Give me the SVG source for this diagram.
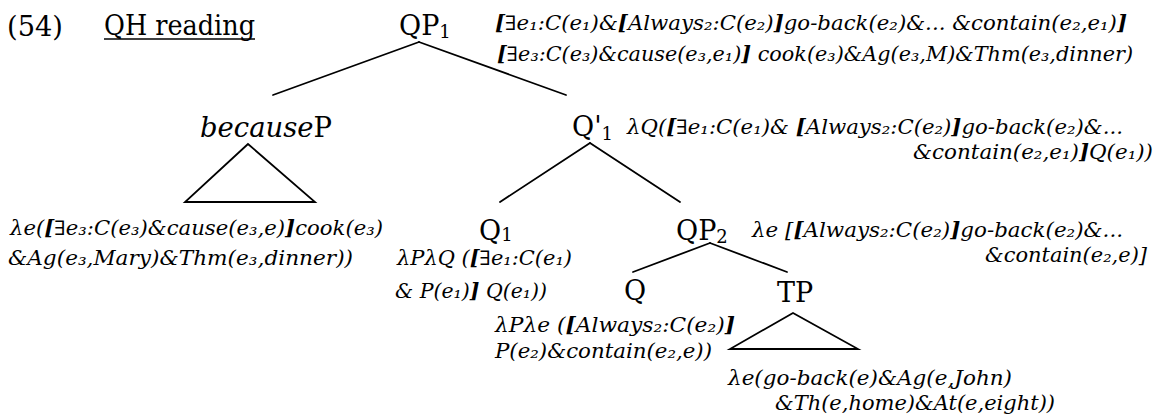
<svg xmlns="http://www.w3.org/2000/svg" width="1171" height="419" viewBox="0 0 1171 419">
<style>
.lbl{font-family:"DejaVu Serif","Liberation Serif",serif;font-size:27px;fill:#000}
.ttl{font-family:"DejaVu Serif","Liberation Serif",serif;font-size:27px;fill:#000}
.sem{font-family:"DejaVu Serif","Liberation Serif",serif;font-style:italic;font-size:20px;fill:#000}
.b{font-weight:bold}
.sub{font-size:18px}
.edge{stroke:#000;stroke-width:1.8;fill:none;stroke-linecap:round}
</style>
<rect width="1171" height="419" fill="#fff"/>
<g id="title">
<text class="ttl" x="7" y="36" textLength="56" lengthAdjust="spacingAndGlyphs">(54)</text>
<text class="ttl" x="104" y="35" textLength="151" lengthAdjust="spacingAndGlyphs">QH reading</text>
<line x1="104" y1="39" x2="255" y2="39" stroke="#000" stroke-width="1.4"/>
</g>
<g id="connectors">
<line class="edge" x1="419" y1="42" x2="273" y2="95"/>
<line class="edge" x1="419" y1="42" x2="566" y2="95"/>
<line class="edge" x1="590" y1="143" x2="500" y2="202"/>
<line class="edge" x1="590" y1="143" x2="680" y2="202"/>
<line class="edge" x1="710" y1="243" x2="633" y2="272"/>
<line class="edge" x1="710" y1="243" x2="787" y2="272"/>
<polygon class="edge" points="248,144 185,202 315,202"/>
<polygon class="edge" points="793,313 730,349 858,349"/>
</g>
<g id="QP1">
<text class="lbl" x="399" y="35">QP<tspan class="sub" dy="3">1</tspan></text>
<text class="sem" x="495" y="30" textLength="632" lengthAdjust="spacingAndGlyphs"><tspan class="b">[</tspan>∃e₁:C(e₁)&amp;<tspan class="b">[</tspan>Always₂:C(e₂)<tspan class="b">]</tspan>go-back(e₂)&amp;... &amp;contain(e₂,e₁)<tspan class="b">]</tspan></text>
<text class="sem" x="497" y="61" textLength="636" lengthAdjust="spacingAndGlyphs"><tspan class="b">[</tspan>∃e₃:C(e₃)&amp;cause(e₃,e₁)<tspan class="b">]</tspan> cook(e₃)&amp;Ag(e₃,M)&amp;Thm(e₃,dinner)</text>
</g>
<g id="becauseP">
<text class="lbl" x="200" y="137" textLength="132" lengthAdjust="spacingAndGlyphs"><tspan font-style="italic">because</tspan>P</text>
<text class="sem" x="10" y="235" textLength="373" lengthAdjust="spacingAndGlyphs">λe(<tspan class="b">[</tspan>∃e₃:C(e₃)&amp;cause(e₃,e)<tspan class="b">]</tspan>cook(e₃)</text>
<text class="sem" x="8" y="265" textLength="345" lengthAdjust="spacingAndGlyphs">&amp;Ag(e₃,Mary)&amp;Thm(e₃,dinner))</text>
</g>
<g id="Qbar1">
<text class="lbl" x="572" y="136">Q'<tspan class="sub" dy="4">1</tspan></text>
<text class="sem" x="627" y="134" textLength="496" lengthAdjust="spacingAndGlyphs">λQ(<tspan class="b">[</tspan>∃e₁:C(e₁)&amp; <tspan class="b">[</tspan>Always₂:C(e₂)<tspan class="b">]</tspan>go-back(e₂)&amp;...</text>
<text class="sem" x="913" y="159" textLength="240" lengthAdjust="spacingAndGlyphs">&amp;contain(e₂,e₁)<tspan class="b">]</tspan>Q(e₁))</text>
</g>
<g id="Q1">
<text class="lbl" x="479" y="240">Q<tspan class="sub" dy="1">1</tspan></text>
<text class="sem" x="397" y="265" textLength="175" lengthAdjust="spacingAndGlyphs">λPλQ (<tspan class="b">[</tspan>∃e₁:C(e₁)</text>
<text class="sem" x="395" y="298" textLength="152" lengthAdjust="spacingAndGlyphs">&amp; P(e₁)<tspan class="b">]</tspan> Q(e₁))</text>
</g>
<g id="QP2">
<text class="lbl" x="676" y="240">QP<tspan class="sub" dy="3">2</tspan></text>
<text class="sem" x="752" y="237" textLength="371" lengthAdjust="spacingAndGlyphs">λe [<tspan class="b">[</tspan>Always₂:C(e₂)<tspan class="b">]</tspan>go-back(e₂)&amp;...</text>
<text class="sem" x="985" y="262" textLength="162" lengthAdjust="spacingAndGlyphs">&amp;contain(e₂,e)]</text>
</g>
<g id="Q">
<text class="lbl" x="624" y="300">Q</text>
<text class="sem" x="495" y="332" textLength="240" lengthAdjust="spacingAndGlyphs">λPλe (<tspan class="b">[</tspan>Always₂:C(e₂)<tspan class="b">]</tspan></text>
<text class="sem" x="495" y="358" textLength="217" lengthAdjust="spacingAndGlyphs">P(e₂)&amp;contain(e₂,e))</text>
</g>
<g id="TP">
<text class="lbl" x="777" y="302">TP</text>
<text class="sem" x="728" y="385" textLength="284" lengthAdjust="spacingAndGlyphs">λe(go-back(e)&amp;Ag(e,John)</text>
<text class="sem" x="775" y="410" textLength="280" lengthAdjust="spacingAndGlyphs">&amp;Th(e,home)&amp;At(e,eight))</text>
</g>
</svg>
